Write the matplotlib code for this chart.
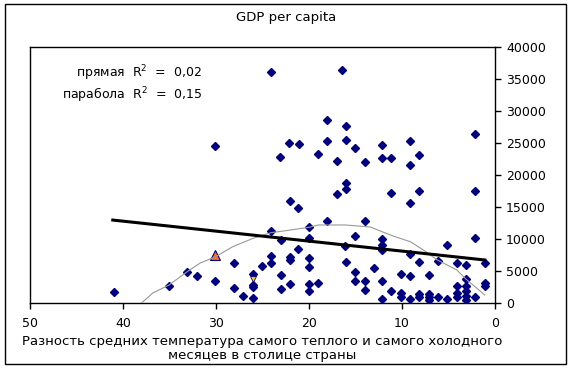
import matplotlib
matplotlib.use('Agg')
import matplotlib.pyplot as plt
from matplotlib.patches import Rectangle

# разность температур (x) и ВВП на душу населения (y)
temp_diff = [24.1, 16.5, 30.1, 22.2, 21.1, 23.1, 18.1, 16.0, 18.1, 16.0,
             15.1, 12.2, 9.1, 19.0, 17.0, 14.0, 12.2, 11.2, 8.2, 9.1,
             2.2, 22.0, 21.2, 24.1, 23.0, 21.2, 24.1, 22.0, 22.0, 28.1,
             25.1, 24.1, 33.1, 32.0, 30.1, 26.0, 26.0, 26.0, 23.0, 22.0,
             23.0, 28.1, 27.1, 26.0, 35.1, 41.0, 16.0, 16.0, 17.0, 11.2,
             18.1, 14.0, 20.0, 20.0, 15.1, 12.2, 12.2, 12.2, 16.1, 20.0,
             20.0, 16.0, 15.1, 15.1, 14.0, 14.0, 13.0, 12.2, 11.2, 12.2,
             20.0, 20.0, 19.0, 8.2, 9.1, 2.2, 2.2, 5.2, 9.1, 8.2,
             6.1, 4.1, 3.1, 1.1, 10.1, 9.1, 7.1, 3.1, 4.1, 3.1,
             1.1, 1.1, 10.1, 10.1, 9.1, 8.2, 8.2, 7.1, 7.1, 7.1,
             6.1, 5.2, 4.1, 4.1, 3.1, 3.1, 3.1, 2.2]
gdp = [36100, 36400, 24500, 25000, 24800, 22800, 28600, 27700, 25300, 25500,
       24200, 24700, 25300, 23300, 22200, 22000, 22700, 22700, 23100, 21600,
       26400, 15900, 14800, 11200, 9800, 8400, 7400, 7200, 6700, 6250,
       5800, 6200, 4800, 4200, 3400, 4500, 2800, 2500, 4300, 2900,
       2200, 2300, 1100, 800, 2700, 1700, 18800, 17800, 17100, 17200,
       12800, 12800, 11800, 10200, 10400, 9950, 9100, 8300, 8900, 7100,
       5700, 6450, 4900, 3500, 3500, 2000, 5400, 3500, 1900, 700,
       2900, 1900, 3100, 17500, 15700, 17500, 10100, 9000, 7600, 6400,
       6600, 6300, 5900, 6200, 4600, 4200, 4400, 3700, 2600, 2600,
       3100, 2700, 1500, 900, 600, 1400, 900, 1400, 900, 500,
       900, 700, 1600, 1000, 1800, 1100, 500, 900]

# выделенные страны
mark_orange = (30.1, 7500)
mark_yellow = (26.0, 3750)

# линейный тренд
line_x = [41.1, 1.1]
line_y = [12960, 6720]

# полиномиальный тренд (точки кривой)
curve_x = [38.0, 36.8, 35.05, 33.1, 31.7, 30.1, 28.2, 26.0, 24.1, 22.0,
           20.0, 19.0, 16.1, 13.4, 12.15, 10.75, 9.1, 7.7, 6.2, 4.1,
           3.1, 2.15, 1.1]
curve_y = [0, 1560, 2810, 4890, 6250, 7190, 8800, 10110, 10980, 11400,
           11830, 12190, 12190, 11875, 11140, 10360, 9580, 8280, 6720, 5160,
           3700, 2550, 1250]

x_ticks = [50, 40, 30, 20, 10, 0]
y_ticks = [0, 5000, 10000, 15000, 20000, 25000, 30000, 35000, 40000]

plt.rcParams['font.family'] = ['DejaVu Sans']

W, H = 572, 370
fig = plt.figure(figsize=(W / 100, H / 100), dpi=100)
ax = fig.add_axes([30 / W, (H - 303) / H, 465 / W, 256 / H])

ax.plot(temp_diff, gdp, linestyle='none', marker='D', markersize=3.6,
        color='#000080', zorder=3)
ax.plot(*mark_orange, marker='^', markersize=7, markerfacecolor='#ff6a1a',
        markeredgecolor='#000080', markeredgewidth=0.8, zorder=4)
ax.plot(*mark_yellow, marker='v', markersize=5, markerfacecolor='#ffcc00',
        markeredgecolor='#000080', markeredgewidth=0.6, zorder=4)

ax.plot(curve_x, curve_y, color='#999999', linewidth=0.8, zorder=4)
ax.plot(line_x, line_y, color='black', linewidth=2.2, zorder=5)

ax.set_xlim(50, 0)
ax.set_ylim(0, 40000)
ax.set_xticks(x_ticks)
ax.set_yticks(y_ticks)
ax.yaxis.tick_right()
ax.tick_params(axis='x', direction='out', length=4, width=1, labelsize=9, pad=6)
ax.tick_params(axis='y', direction='out', length=4, width=1, labelsize=9, pad=4)
for s in ax.spines.values():
    s.set_color('black')
    s.set_linewidth(1)

fig.text(286 / W, 1 - 18 / H, 'GDP per capita', ha='center', va='center', fontsize=9.5)
fig.text(202 / W, 1 - 73 / H, 'прямая  R$^2$  =  0,02', ha='right', va='center', fontsize=9)
fig.text(202 / W, 1 - 95 / H, 'парабола  R$^2$  =  0,15', ha='right', va='center', fontsize=9)
fig.text(262 / W, 1 - 341 / H, 'Разность средних температура самого теплого и самого холодного',
         ha='center', va='center', fontsize=9.5)
fig.text(262 / W, 1 - 356 / H, 'месяцев в столице страны',
         ha='center', va='center', fontsize=9.5)

# рамка вокруг всей диаграммы
fig.add_artist(Rectangle((5 / W, (H - 364) / H), 561 / W, 360 / H,
                         transform=fig.transFigure, fill=False,
                         edgecolor='black', linewidth=1))

plt.savefig('out.png', dpi=100)
